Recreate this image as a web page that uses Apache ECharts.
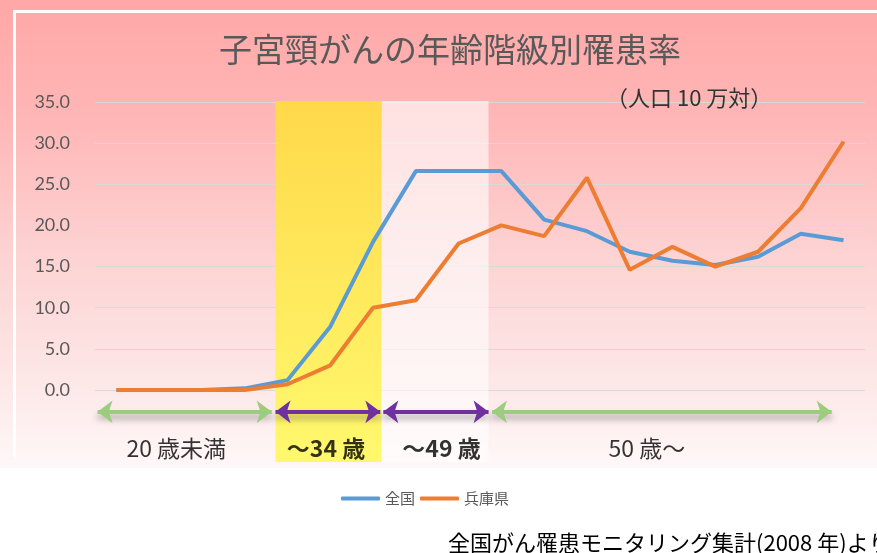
<!DOCTYPE html>
<html>
<head>
<meta charset="utf-8">
<script src="https://cdn.jsdelivr.net/npm/echarts@6/dist/echarts.min.js"></script>
<style>
  html, body { margin: 0; padding: 0; background: #fff; }
  #chart { width: 877px; height: 553px; }
</style>
</head>
<body>
<div id="chart"></div>
<script>
// 年齢階級（5歳刻み）
var ages = ["0-4", "5-9", "10-14", "15-19", "20-24", "25-29", "30-34", "35-39", "40-44",
  "45-49", "50-54", "55-59", "60-64", "65-69", "70-74", "75-79", "80-84", "85-"];
// 罹患率（人口10万対）
var zenkoku = [0, 0, 0, 0.2, 1.2, 7.7, 18.0, 26.6, 26.6, 26.6, 20.7, 19.3, 16.8, 15.7, 15.2, 16.2, 19.0, 18.2];
var hyogo = [0, 0, 0, 0, 0.7, 3.0, 10.0, 10.9, 17.8, 20.0, 18.7, 25.8, 14.6, 17.4, 15.0, 16.8, 22.1, 30.2];
// 年齢区分（カテゴリ位置で表した範囲）
var groupLabels = ["20 歳未満", "～34 歳", "～49 歳", "50 歳～"];
var groupRanges = [[-0.44, 3.63], [3.72, 6.17], [6.24, 8.7], [8.78, 16.72]];
var groupCenters = [1.4, 4.9, 7.6, 12.4];
var bandEdges = [3.72, 6.2, 8.7];

var font = "'Noto Sans CJK JP', sans-serif";
var arrowY = 13.9;   // 補助グリッド上の矢印の高さ
var captionY = 3.9;

var chart = echarts.init(document.getElementById("chart"));

var arrowColors = ["#9ccc7e", "#7030a0", "#7030a0", "#9ccc7e"];
var boldLabel = [false, true, true, false];

var option = {
  animation: false,
  textStyle: { fontFamily: font },
  graphic: [
    {
      type: "rect", z: -100, silent: true,
      shape: { x: 0, y: 0, width: 877, height: 468 },
      style: {
        fill: new echarts.graphic.LinearGradient(0, 0, 0, 1, [
          { offset: 0, color: "#ffa7a7" },
          { offset: 0.25, color: "#ffb6b6" },
          { offset: 0.55, color: "#fdd3d3" },
          { offset: 0.85, color: "#fdeaea" },
          { offset: 1, color: "#fff8f8" }
        ])
      }
    },
    {
      type: "polyline", z: -99, silent: true,
      shape: { points: [[14.5, 458], [14.5, 11.5], [880, 11.5]] },
      style: { stroke: "#fff", lineWidth: 3, fill: null }
    },
    {
      type: "text", left: 448, top: 532, silent: true,
      style: { text: "全国がん罹患モニタリング集計(2008 年)より", fontSize: 22, fill: "#000", fontFamily: font }
    }
  ],
  title: [
    {
      text: "子宮頸がんの年齢階級別罹患率",
      left: 214, top: 28,
      textStyle: { fontSize: 33, fontWeight: "normal", color: "#595959", fontFamily: font }
    },
    {
      text: "（人口 10 万対）",
      left: 601, top: 82,
      textStyle: { fontSize: 22, fontWeight: "normal", color: "#333", fontFamily: font }
    }
  ],
  legend: {
    data: ["全国", "兵庫県"],
    left: 336, top: 486,
    icon: "roundRect",
    itemWidth: 39, itemHeight: 4, itemGap: 5,
    textStyle: { fontSize: 15, color: "#595959", fontFamily: font }
  },
  grid: [
    { left: 95, right: 12, top: 101, bottom: 91 },
    { left: 95, right: 12, top: 102, bottom: 163 }
  ],
  xAxis: [
    { gridIndex: 0, type: "value", min: -0.5, max: 17.5, show: false },
    {
      gridIndex: 1, type: "category", data: ages, boundaryGap: true,
      axisLine: { show: false }, axisTick: { show: false }, axisLabel: { show: false }
    }
  ],
  yAxis: [
    { gridIndex: 0, type: "value", min: 0, max: 100, show: false },
    {
      gridIndex: 1, type: "value", min: 0, max: 35, interval: 5,
      axisLine: { show: false }, axisTick: { show: false },
      axisLabel: {
        margin: 25, fontSize: 18, color: "#595959", fontFamily: "Lato, sans-serif",
        formatter: function (v) { return v.toFixed(1); }
      },
      splitLine: { lineStyle: { color: "#d9d9d9", width: 1 } }
    }
  ],
  series: [
    {
      // 背景の帯
      type: "scatter", xAxisIndex: 0, yAxisIndex: 0, data: [], z: -5, silent: true,
      markArea: {
        silent: true,
        data: [
          [{
            xAxis: bandEdges[0], yAxis: 0,
            itemStyle: {
              color: new echarts.graphic.LinearGradient(0, 0, 0, 1, [
                { offset: 0, color: "#ffd94a" },
                { offset: 1, color: "#fff86e" }
              ])
            }
          }, { xAxis: bandEdges[1], yAxis: 100 }],
          [{
            xAxis: bandEdges[1], yAxis: 0,
            itemStyle: { color: "rgba(255,255,255,0.6)" }
          }, { xAxis: bandEdges[2], yAxis: 100 }]
        ]
      }
    },
    {
      // 年齢区分の矢印と見出し
      type: "scatter", xAxisIndex: 0, yAxisIndex: 0, z: 5, silent: true,
      symbolSize: 0,
      data: groupLabels.map(function (t, i) {
        return {
          value: [groupCenters[i], captionY], name: t,
          label: { fontWeight: boldLabel[i] ? "bold" : "normal" }
        };
      }),
      label: {
        show: true, position: "inside",
        formatter: function (p) { return p.name; },
        fontSize: 23, color: "#000", fontFamily: font
      },
      markLine: {
        silent: true,
        symbol: ["arrow", "arrow"],
        symbolSize: [17, 15],
        label: { show: false },
        data: groupRanges.map(function (r, i) {
          return [
            {
              coord: [r[0], arrowY],
              lineStyle: {
                color: arrowColors[i], width: 4, type: "solid",
                shadowColor: "rgba(60,60,60,0.45)", shadowBlur: 6, shadowOffsetY: 5
              },
              itemStyle: { color: arrowColors[i] }
            },
            { coord: [r[1], arrowY] }
          ];
        })
      }
    },
    {
      name: "全国", type: "line", xAxisIndex: 1, yAxisIndex: 1, data: zenkoku,
      symbol: "none", z: 3,
      lineStyle: { color: "#5b9bd5", width: 4 }, itemStyle: { color: "#5b9bd5" }
    },
    {
      name: "兵庫県", type: "line", xAxisIndex: 1, yAxisIndex: 1, data: hyogo,
      symbol: "none", z: 4,
      lineStyle: { color: "#ed7d31", width: 4 }, itemStyle: { color: "#ed7d31" }
    }
  ]
};

chart.setOption(option);
</script>
</body>
</html>
